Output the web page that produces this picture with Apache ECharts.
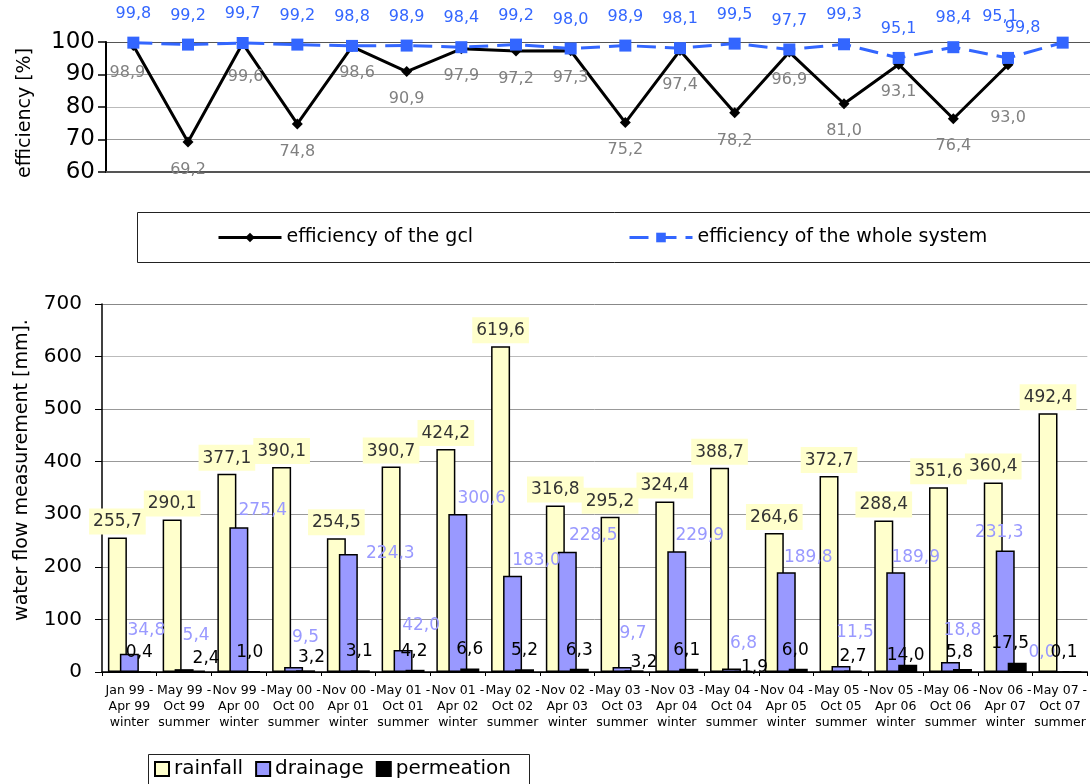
<!DOCTYPE html>
<html><head><meta charset="utf-8">
<script src="https://cdn.jsdelivr.net/npm/echarts@6/dist/echarts.min.js"></script>
<style>html,body{margin:0;padding:0;background:#fff}#c{width:1090px;height:784px}</style>
</head><body><div id="c"></div>
<script>
const categories = [
  'Jan 99 -\nApr 99\nwinter', 'May 99 -\nOct 99\nsummer', 'Nov 99 -\nApr 00\nwinter',
  'May 00 -\nOct 00\nsummer', 'Nov 00 -\nApr 01\nwinter', 'May 01 -\nOct 01\nsummer',
  'Nov 01 -\nApr 02\nwinter', 'May 02 -\nOct 02\nsummer', 'Nov 02 -\nApr 03\nwinter',
  'May 03 -\nOct 03\nsummer', 'Nov 03 -\nApr 04\nwinter', 'May 04 -\nOct 04\nsummer',
  'Nov 04 -\nApr 05\nwinter', 'May 05 -\nOct 05\nsummer', 'Nov 05 -\nApr 06\nwinter',
  'May 06 -\nOct 06\nsummer', 'Nov 06 -\nApr 07\nwinter', 'May 07 -\nOct 07\nsummer'
];
const gclEfficiency = [98.9, 69.2, 99.6, 74.8, 98.6, 90.9, 97.9, 97.2, 97.3, 75.2, 97.4, 78.2, 96.9, 81.0, 93.1, 76.4, 93.0, null];
const systemEfficiency = [99.8, 99.2, 99.7, 99.2, 98.8, 98.9, 98.4, 99.2, 98.0, 98.9, 98.1, 99.5, 97.7, 99.3, 95.1, 98.4, 95.1, 99.8];
const rainfall = [255.7, 290.1, 377.1, 390.1, 254.5, 390.7, 424.2, 619.6, 316.8, 295.2, 324.4, 388.7, 264.6, 372.7, 288.4, 351.6, 360.4, 492.4];
const drainage = [34.8, 5.4, 275.4, 9.5, 224.3, 42.0, 300.6, 183.0, 228.5, 9.7, 229.9, 6.8, 189.8, 11.5, 189.9, 18.8, 231.3, 0.0];
const permeation = [0.4, 2.4, 1.0, 3.2, 3.1, 4.2, 6.6, 5.2, 6.3, 3.2, 6.1, 1.9, 6.0, 2.7, 14.0, 5.8, 17.5, 0.1];
const effTicks = [60, 70, 80, 90, 100];
const flowTicks = [0, 100, 200, 300, 400, 500, 600, 700];

// label nudges (style only, not data)
const gclLabelShift = [[-6,0],[0,0],[3,6],[0,0],[5,-1],[0,0],[0,0],[0,0],[0,0],[0,0],[0,7],[0,0],[0,0],[0,0],[0,0],[0,0],[0,26],[0,0]];
const sysLabelShift = [[0,0],[0,0],[0,0],[0,0],[0,0],[0,0],[0,0],[0,0],[0,0],[0,0],[0,0],[0,0],[0,0],[0,0],[0,0],[0,0],[-8,-12],[-40,14]];
const drainLabelShift = [[17,-15],[12,-25],[24,-8],[12,-21],[42,8],[18,-16],[24,-7],[24,-7],[26,-8],[11,-25],[23,-7],[12,-16],[22,-6],[14,-25],[20,-6],[12,-23],[-6,-9],[-18,-10]];
const permLabelShift = [[-2,-10],[10,-4],[-1,-10],[6,-4],[-1,-10],[-1,-10],[0,-10],[0,-10],[0,-10],[10,1],[-2,-10],[11,5],[-3,-10],[0,-5],[-2,-1],[-3,-8],[-7,-11],[-8,-10]];

const FF = '"DejaVu Sans", sans-serif';
const fmt = v => (v == null ? '' : v.toFixed(1).replace('.', ','));
const withShift = (vals, shifts) => vals.map((v, i) => ({ value: v, label: { offset: shifts[i] } }));

const chart = echarts.init(document.getElementById('c'), null, { renderer: 'canvas' });
chart.setOption({
  animation: false,
  backgroundColor: '#fff',
  textStyle: { fontFamily: FF },
  grid: [
    { left: 106, top: 42, width: 984, height: 130 },
    { left: 102, top: 304, width: 988, height: 368 }
  ],
  xAxis: [
    { type: 'category', gridIndex: 0, data: categories, boundaryGap: true,
      axisLabel: { show: false }, axisTick: { show: false },
      axisLine: { lineStyle: { color: '#555', width: 2 } } },
    { type: 'category', gridIndex: 1, data: categories, boundaryGap: true,
      axisTick: { show: true, alignWithLabel: false, length: 4, lineStyle: { color: '#000', width: 1 } },
      axisLine: { lineStyle: { color: '#000', width: 1.5 } },
      axisLabel: { interval: 0, fontSize: 12.5, lineHeight: 16, margin: 11, color: '#000', fontFamily: FF } }
  ],
  yAxis: [
    { type: 'value', gridIndex: 0, min: effTicks[0], max: effTicks[effTicks.length - 1], interval: 10,
      axisLine: { show: true, lineStyle: { color: '#000', width: 2 } },
      axisTick: { show: true, length: 8, lineStyle: { color: '#000', width: 1.5 } },
      axisLabel: { fontSize: 23, margin: 11, color: '#000', fontFamily: FF },
      splitLine: { lineStyle: { color: ['#666', '#999', '#bbb', '#999', '#555'], width: 1 } } },
    { type: 'value', gridIndex: 1, min: flowTicks[0], max: flowTicks[flowTicks.length - 1], interval: 100,
      axisLine: { show: true, lineStyle: { color: '#000', width: 1.5 } },
      axisTick: { show: true, length: 7, lineStyle: { color: '#000', width: 1 } },
      axisLabel: { fontSize: 20, margin: 20, color: '#000', fontFamily: FF },
      splitLine: { lineStyle: { color: ['#000', '#999', '#999', '#999', '#999', '#999', '#bbb', '#888'], width: 1 } } }
  ],
  legend: [
    { data: ['efficiency of the gcl'], left: 217, top: 228, padding: 0, itemWidth: 63, itemHeight: 12,
      lineStyle: { width: 3 },
      textStyle: { fontSize: 19, color: '#000', fontFamily: FF } },
    { data: ['efficiency of the whole system'], left: 628, top: 228, padding: 0, itemWidth: 63, itemHeight: 12,
      lineStyle: { width: 3 },
      textStyle: { fontSize: 19, color: '#000', fontFamily: FF } },
    { data: ['rainfall', 'drainage', 'permeation'], left: 154, top: 759, padding: 0, itemWidth: 14, itemHeight: 14,
      itemGap: 12, icon: 'rect', itemStyle: { borderWidth: 2 },
      textStyle: { fontSize: 20, color: '#000', fontFamily: FF } }
  ],
  graphic: [
    { type: 'rect', shape: { x: 137.5, y: 212.5, width: 1000, height: 50 }, style: { fill: 'none', stroke: '#222', lineWidth: 1 }, silent: true },
    { type: 'rect', shape: { x: 148.5, y: 754.5, width: 381, height: 40 }, style: { fill: 'none', stroke: '#222', lineWidth: 1 }, silent: true },
    { type: 'text', x: 25, y: 113, rotation: Math.PI / 2,
      style: { text: 'efficiency [%]', font: '19px ' + FF, fill: '#000', textAlign: 'center', textVerticalAlign: 'middle', align: 'center', verticalAlign: 'middle' } },
    { type: 'text', x: 22, y: 470, rotation: Math.PI / 2,
      style: { text: 'water flow measurement [mm].', font: '19px ' + FF, fill: '#000', textAlign: 'center', textVerticalAlign: 'middle', align: 'center', verticalAlign: 'middle' } }
  ],
  series: [
    { type: 'line', name: 'efficiency of the gcl', xAxisIndex: 0, yAxisIndex: 0,
      data: withShift(gclEfficiency, gclLabelShift),
      symbol: 'diamond', symbolSize: 11,
      itemStyle: { color: '#000' }, lineStyle: { color: '#000', width: 3 },
      label: { show: true, position: 'bottom', distance: 14, color: '#808080', fontSize: 16, fontFamily: FF,
        formatter: p => fmt(p.value) } },
    { type: 'line', name: 'efficiency of the whole system', xAxisIndex: 0, yAxisIndex: 0,
      data: withShift(systemEfficiency, sysLabelShift),
      symbol: 'rect', symbolSize: 12,
      itemStyle: { color: '#3366FF' }, lineStyle: { color: '#3366FF', width: 3, type: [19, 9] },
      label: { show: true, position: 'top', distance: 15, color: '#3366FF', fontSize: 16, fontFamily: FF,
        formatter: p => fmt(p.value) } },
    { type: 'bar', name: 'rainfall', xAxisIndex: 1, yAxisIndex: 1, data: rainfall,
      barWidth: 19, barGap: '-37%',
      itemStyle: { color: '#FFFFCC', borderColor: '#000', borderWidth: 1.5 },
      label: { show: true, position: 'top', distance: 3, backgroundColor: '#FFFFCC', padding: [5, 4, 4, 4],
        color: '#333', fontSize: 17, fontFamily: FF, formatter: p => fmt(p.value) } },
    { type: 'bar', name: 'drainage', xAxisIndex: 1, yAxisIndex: 1, data: withShift(drainage, drainLabelShift),
      barWidth: 19, barGap: '-37%',
      itemStyle: { color: '#9999FF', borderColor: '#000', borderWidth: 1.5 },
      label: { show: true, position: 'top', distance: 0, color: '#9999FF', fontSize: 17, fontFamily: FF,
        formatter: p => fmt(p.value) } },
    { type: 'bar', name: 'permeation', xAxisIndex: 1, yAxisIndex: 1, data: withShift(permeation, permLabelShift),
      barWidth: 19, barGap: '-37%',
      itemStyle: { color: '#000', borderColor: '#000', borderWidth: 1.5 },
      label: { show: true, position: 'top', distance: 0, color: '#000', fontSize: 17, fontFamily: FF,
        formatter: p => fmt(p.value) } }
  ]
});
</script>
</body></html>
